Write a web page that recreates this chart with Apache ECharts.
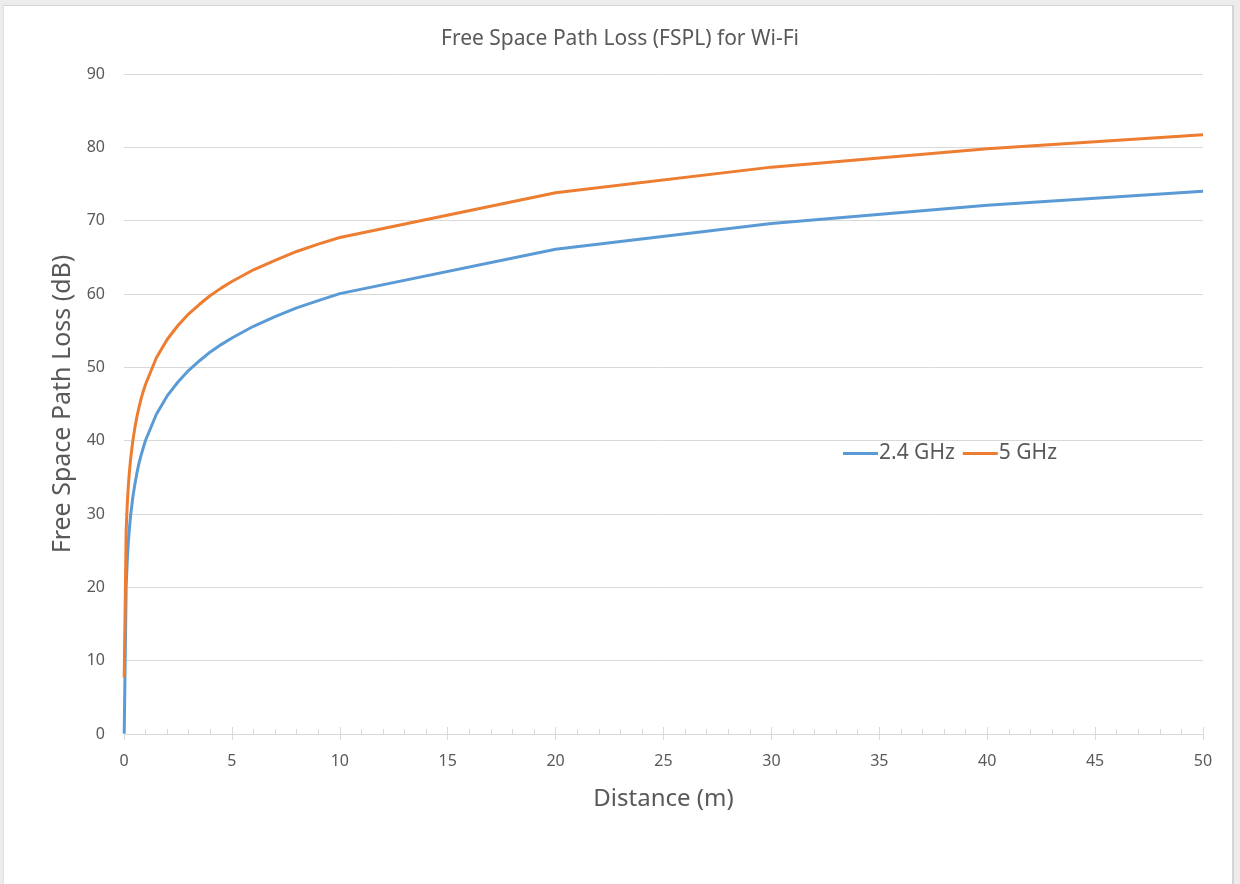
<!DOCTYPE html>
<html>
<head>
<meta charset="utf-8">
<script src="https://cdn.jsdelivr.net/npm/echarts@6/dist/echarts.min.js"></script>
<style>
  html, body { margin: 0; padding: 0; width: 1240px; height: 884px; background: #ececec; overflow: hidden; }
  #frame { position: absolute; left: 3px; top: 5px; width: 1228px; height: 890px; background: #ffffff; border-top: 1px solid #d4d4d4; border-right: 2px solid #d4d4d4; border-left: 1px solid #e0e0e0; }
  #chart { position: absolute; left: 0; top: 0; width: 1240px; height: 884px; }
</style>
</head>
<body>
<div id="frame"></div>
<div id="chart"></div>
<script>
// Data
const distances = [0.01, 0.1, 0.15, 0.2, 0.25, 0.3, 0.4, 0.5, 0.6, 0.7, 0.8, 0.9, 1, 1.5, 2, 2.5, 3, 3.5, 4, 4.5, 5, 6, 7, 8, 9, 10, 20, 30, 40, 50];
const loss24 = [0.05, 20.05, 23.6, 26.1, 28.0, 29.6, 32.1, 34.0, 35.6, 37.0, 38.1, 39.1, 40.05, 43.6, 46.1, 48.0, 49.6, 50.9, 52.1, 53.1, 54.0, 55.6, 56.9, 58.1, 59.1, 60.05, 66.1, 69.6, 72.1, 74.0];
const loss5 = [7.7, 27.7, 31.3, 33.8, 35.7, 37.3, 39.8, 41.7, 43.3, 44.6, 45.8, 46.8, 47.7, 51.3, 53.8, 55.7, 57.3, 58.6, 59.8, 60.8, 61.7, 63.3, 64.6, 65.8, 66.8, 67.7, 73.8, 77.3, 79.8, 81.7];
const seriesNames = ['2.4 GHz', '5 GHz'];
const titleText = 'Free Space Path Loss (FSPL) for Wi-Fi';
const xTitle = 'Distance (m)';
const yTitle = 'Free Space Path Loss (dB)';

const FONT = '"Noto Sans", "Open Sans", sans-serif';
const TXT = '#595959';
const GRIDC = '#d9d9d9';

const chart = echarts.init(document.getElementById('chart'), null, { renderer: 'canvas' });
const pairs = (ys) => distances.map((d, i) => [d, ys[i]]);

chart.setOption({
  backgroundColor: 'transparent',
  animation: false,
  textStyle: { fontFamily: FONT },
  title: {
    text: titleText,
    left: 'center',
    top: 24,
    textStyle: { fontFamily: FONT, fontSize: 21, fontWeight: 'normal', color: TXT }
  },
  legend: {
    data: seriesNames,
    icon: 'rect',
    left: 841,
    top: 441,
    itemWidth: 35,
    itemHeight: 3,
    itemGap: 8,
    backgroundColor: '#ffffff',
    padding: [2, 2, 2, 2],
    textStyle: { fontFamily: FONT, fontSize: 21, color: TXT, padding: [0, 0, 0, -4] }
  },
  grid: { left: 124, right: 37, top: 74, bottom: 150, containLabel: false },
  xAxis: [
    {
      type: 'value', min: 0, max: 50, interval: 5,
      position: 'bottom',
      name: xTitle, nameLocation: 'middle', nameGap: 53,
      nameTextStyle: { fontFamily: FONT, fontSize: 24, color: TXT },
      axisLine: { show: true, lineStyle: { color: GRIDC, width: 1 } },
      axisTick: { show: true, length: 6, lineStyle: { color: GRIDC } },
      axisLabel: { fontFamily: FONT, fontSize: 16, color: TXT, margin: 19 },
      splitLine: { show: false }
    },
    {
      type: 'value', min: 0, max: 50, interval: 5,
      position: 'bottom',
      axisLine: { show: false },
      axisTick: { show: true, inside: true, length: 7, lineStyle: { color: GRIDC } },
      minorTick: { show: true, splitNumber: 5, length: 5, lineStyle: { color: GRIDC } },
      axisLabel: { show: false },
      splitLine: { show: false }
    }
  ],
  yAxis: {
    type: 'value', min: 0, max: 90, interval: 10,
    name: yTitle, nameLocation: 'middle', nameGap: 49,
    nameTextStyle: { fontFamily: FONT, fontSize: 25, color: TXT },
    axisLine: { show: false },
    axisTick: { show: false },
    axisLabel: { fontFamily: FONT, fontSize: 16, color: TXT, margin: 19 },
    splitLine: { show: true, lineStyle: { color: GRIDC, width: 1 } }
  },
  series: [
    {
      name: seriesNames[0], type: 'line', xAxisIndex: 0,
      data: pairs(loss24), showSymbol: false, symbol: 'none',
      lineStyle: { color: '#5b9bd5', width: 3, join: 'round' }, itemStyle: { color: '#5b9bd5' }
    },
    {
      name: seriesNames[1], type: 'line', xAxisIndex: 0,
      data: pairs(loss5), showSymbol: false, symbol: 'none',
      lineStyle: { color: '#ed7d31', width: 3, join: 'round' }, itemStyle: { color: '#ed7d31' }
    }
  ]
});
</script>
</body>
</html>
